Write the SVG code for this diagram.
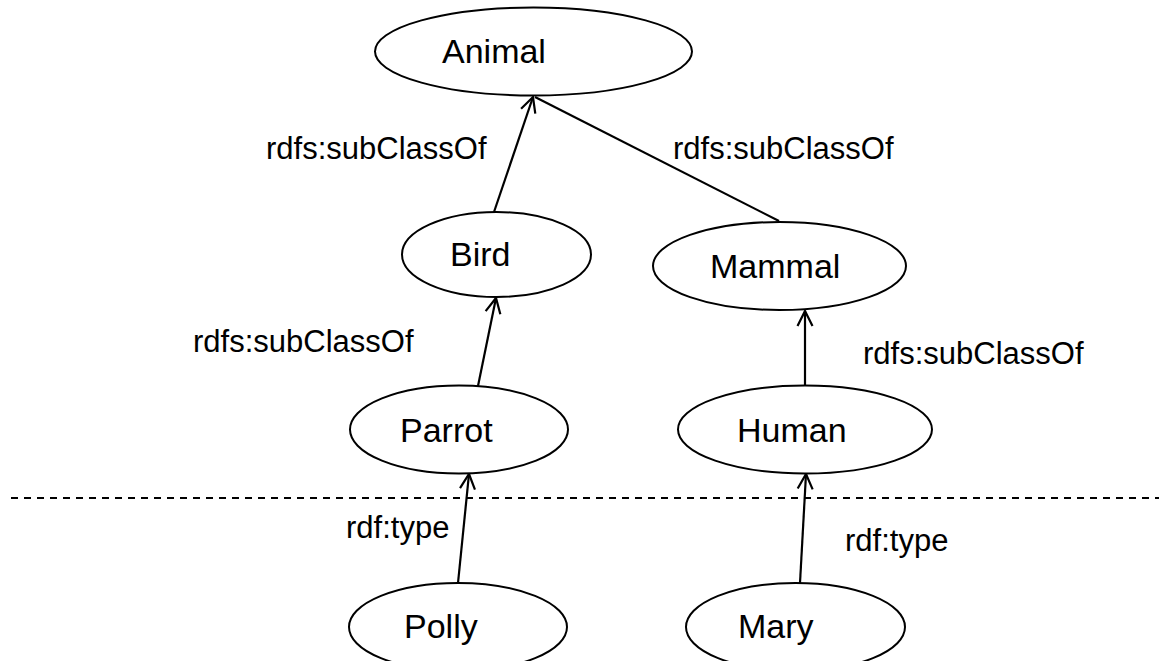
<svg xmlns="http://www.w3.org/2000/svg" width="1159" height="661" viewBox="0 0 1159 661">
  <style>
    .node ellipse { fill: #ffffff; stroke: #000000; stroke-width: 2; }
    .node text { font-family: "Liberation Sans", Arial, sans-serif; font-size: 34px; fill: #000000; }
    .edge { stroke: #000000; stroke-width: 2.2; fill: none; }
    .label { font-family: "Liberation Sans", Arial, sans-serif; font-size: 31px; fill: #000000; }
    .divider { stroke: #000000; stroke-width: 2; stroke-dasharray: 7 6; }
  </style>
  <defs>
    <marker id="open-arrow" viewBox="-16 -9 18 18" refX="0" refY="0" markerWidth="18" markerHeight="18" markerUnits="userSpaceOnUse" orient="auto">
      <path d="M -15 -7.5 L 0 0 L -15 7.5" fill="none" stroke="#000000" stroke-width="2.2"/>
    </marker>
  </defs>

  <rect width="1159" height="661" fill="#ffffff"/>

  <!-- boundary between the class layer and the instance layer -->
  <line class="divider" x1="11" y1="498" x2="1159" y2="498"/>

  <g id="connectors">
    <line class="edge" x1="494" y1="212" x2="533" y2="97" marker-end="url(#open-arrow)"/>
    <line class="edge" x1="779" y1="221" x2="535" y2="97"/>
    <line class="edge" x1="478" y1="386" x2="496" y2="298" marker-end="url(#open-arrow)"/>
    <line class="edge" x1="805" y1="386" x2="805" y2="311" marker-end="url(#open-arrow)"/>
    <line class="edge" x1="458" y1="583" x2="469" y2="474" marker-end="url(#open-arrow)"/>
    <line class="edge" x1="800" y1="583" x2="806" y2="474" marker-end="url(#open-arrow)"/>
  </g>

  <g id="edge-labels">
    <text class="label" x="266" y="159">rdfs:subClassOf</text>
    <text class="label" x="673" y="159">rdfs:subClassOf</text>
    <text class="label" x="193" y="352">rdfs:subClassOf</text>
    <text class="label" x="863" y="364">rdfs:subClassOf</text>
    <text class="label" x="346" y="538">rdf:type</text>
    <text class="label" x="845" y="551">rdf:type</text>
  </g>

  <g id="node-animal" class="node">
    <ellipse cx="533.5" cy="51.5" rx="158.5" ry="44"/>
    <text x="442" y="63">Animal</text>
  </g>
  <g id="node-bird" class="node">
    <ellipse cx="496.5" cy="254.5" rx="94.5" ry="42.5"/>
    <text x="450" y="266">Bird</text>
  </g>
  <g id="node-mammal" class="node">
    <ellipse cx="779.5" cy="266" rx="126.5" ry="44"/>
    <text x="710" y="278">Mammal</text>
  </g>
  <g id="node-parrot" class="node">
    <ellipse cx="459" cy="429.5" rx="109" ry="44"/>
    <text x="400" y="442">Parrot</text>
  </g>
  <g id="node-human" class="node">
    <ellipse cx="805" cy="429.5" rx="127" ry="44"/>
    <text x="737" y="442">Human</text>
  </g>
  <g id="node-polly" class="node">
    <ellipse cx="458" cy="627" rx="109" ry="44"/>
    <text x="404" y="638">Polly</text>
  </g>
  <g id="node-mary" class="node">
    <ellipse cx="795.5" cy="627" rx="109.5" ry="44"/>
    <text x="738" y="638">Mary</text>
  </g>
</svg>
